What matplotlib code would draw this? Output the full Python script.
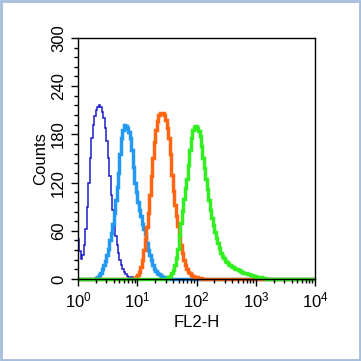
import numpy as np
import matplotlib
matplotlib.use('Agg')
import matplotlib.pyplot as plt
from matplotlib.patches import Rectangle
from matplotlib.ticker import MultipleLocator, LogLocator

plt.rcParams['font.family'] = ['Liberation Sans', 'DejaVu Sans']

# Histogram counts, one value per 0.025-decade channel from 10^0 to 10^4 (160 bins).
# Each list starts at the given channel, all other channels are 0.
n_bins = 160

navy_start = 0
navy_counts = [50, 35, 25, 30, 42, 62, 90, 120, 150, 175, 192, 203, 210, 214, 216, 214,
               208, 200, 188, 172, 150, 128, 105, 86, 68, 54, 42, 32, 24, 18, 13, 9,
               6, 4, 3, 2, 2, 1, 1]

sky_start = 12
sky_counts = [1, 3, 5, 8, 12, 17, 22, 30, 38, 48, 57, 68, 82, 98, 114, 132, 155, 175,
              186, 192, 190, 188, 183, 175, 160, 140, 120, 108, 96, 86, 78, 68, 62, 56,
              45, 36, 30, 24, 18, 13, 10, 8, 6, 5, 4, 3, 2, 1]

orange_start = 38
orange_counts = [1, 3, 5, 9, 15, 24, 36, 50, 65, 82, 105, 128, 150, 170, 186, 197, 204,
                 207, 206, 207, 204, 198, 188, 175, 155, 130, 110, 92, 78, 66, 54, 42,
                 32, 24, 18, 13, 9, 7, 5, 4, 3, 2, 2, 1, 1, 1]

green_start = 60
green_counts = [1, 2, 4, 7, 11, 17, 26, 38, 55, 70, 85, 100, 113, 125, 142, 160, 176,
                185, 189, 191, 188, 184, 178, 165, 150, 138, 124, 112, 98, 86, 76, 67,
                59, 51, 45, 39, 33, 29, 26, 23, 21, 19, 17, 16, 15, 14, 13, 12, 11, 10,
                9, 8, 7, 7, 6, 6, 5, 5, 4, 4, 3, 3, 2, 2, 1, 1, 1]


def full_channels(counts, start):
    return [0] * start + counts + [0] * (n_bins - start - len(counts))


series = [
    (full_channels(navy_counts, navy_start), '#1c1cc8', 1.1),
    (full_channels(sky_counts, sky_start), '#2399f2', 2.5),
    (full_channels(orange_counts, orange_start), '#ff6614', 2.5),
    (full_channels(green_counts, green_start), '#33ee22', 2.5),
]

edges = 10 ** (np.arange(n_bins + 1) * 4.0 / n_bins)

fig = plt.figure(figsize=(3.61, 3.61), dpi=100)
ax = fig.add_axes([0.216, 0.227, 0.657, 0.668])

for counts, color, lw in series:
    ax.stairs(counts, edges, baseline=None, color=color, linewidth=lw, clip_on=False)

ax.set_xscale('log')
ax.set_xlim(1, 1e4)
ax.set_ylim(0, 300)
ax.yaxis.set_major_locator(MultipleLocator(60))
ax.yaxis.set_minor_locator(MultipleLocator(12))
ax.xaxis.set_major_locator(LogLocator(base=10, numticks=10))
ax.xaxis.set_minor_locator(LogLocator(base=10, subs=np.arange(2, 10), numticks=10))

ax.tick_params(which='major', direction='out', length=5, width=1, labelsize=12)
ax.tick_params(which='minor', direction='out', length=3, width=1)
for label in ax.get_yticklabels():
    label.set_rotation(90)
    label.set_va('center')
for s in ax.spines.values():
    s.set_linewidth(1)

ax.set_xlabel('FL2-H', fontsize=12, labelpad=3)
ax.set_ylabel('Counts', fontsize=12, labelpad=2)

fig.patches.append(Rectangle((0.003, 0.003), 0.994, 0.994, transform=fig.transFigure,
                             fill=False, edgecolor='#a6bedc', linewidth=2))

fig.savefig('out.png', dpi=100)
